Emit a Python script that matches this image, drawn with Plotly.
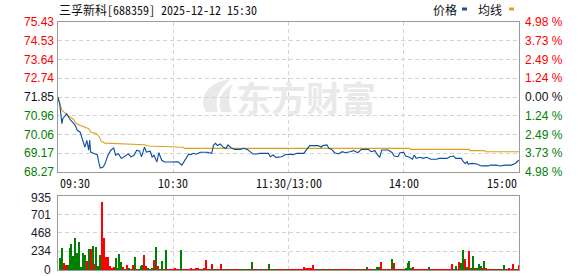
import plotly.graph_objects as go

# ---------------- data ----------------
title_text = "三孚新科[688359] 2025-12-12 15:30"
prev_close = 71.85
price_ticks = [68.27, 69.17, 70.06, 70.96, 71.85, 72.74, 73.64, 74.53, 75.43]
pct_labels = ["4.98 %", "3.73 %", "2.49 %", "1.24 %", "0.00 %", "1.24 %", "2.49 %", "3.73 %", "4.98 %"]
vol_ticks = [0, 234, 468, 701, 935]
time_ticks = [0, 60, 120, 180, 240]
time_labels = ["09:30", "10:30", "11:30/13:00", "14:00", "15:00"]

price_t = [0, 1, 2, 2.5, 4.5, 6, 9, 10, 11.5, 12, 13, 14, 15, 16, 16.5, 17, 19, 20.5, 21, 22,
           23.5, 24.5, 26, 27.5, 29, 30, 31.5, 33, 35, 36.5, 38, 39.5, 41, 42.5, 43.5, 45, 46, 48, 49, 50,
           51.5, 52.5, 54, 55.5, 58, 60, 62.5, 64.5, 66, 68, 69, 70.5, 72, 74, 77.5, 80, 81, 82, 83, 84.5,
           86, 87.5, 88.5, 90.5, 92, 95, 96.5, 98.5, 100, 101.5, 103.5, 105, 109.5, 110.5, 112, 113.5, 116.5, 118, 120, 122.5,
           124.5, 128, 129, 131, 135.5, 137, 138, 140, 141, 142.5, 144, 146, 148, 149.5, 152, 154, 156, 158, 161.5, 163,
           165, 166, 167.5, 168.5, 172, 174, 175, 177, 178, 180, 181, 183, 184.5, 185.5, 186.5, 188.5, 190, 192, 194, 197,
           198.5, 202.5, 204, 206, 207, 210, 211, 212, 213, 213.5, 215.5, 218, 220.5, 224, 225, 228.5, 230, 233, 236, 238,
           239, 240]
price_v = [71.85, 71.45, 70.58, 70.81, 71.05, 70.81, 70.50, 70.26, 70.18, 70.02, 69.70, 69.46, 69.78, 69.31, 69.78, 69.22, 69.14, 69.10, 68.83, 68.46,
           68.51, 68.67, 69.07, 69.31, 69.42, 69.07, 69.14, 68.91, 69.03, 69.14, 68.99, 69.07, 69.31, 69.26, 68.99, 69.46, 69.22, 69.26, 68.99, 69.07,
           68.75, 69.19, 68.83, 68.75, 68.75, 68.76, 68.76, 68.60, 68.81, 69.12, 69.10, 69.16, 69.12, 69.21, 69.21, 69.16, 69.56, 69.64, 69.53, 69.61,
           69.45, 69.40, 69.56, 69.40, 69.35, 69.35, 69.40, 69.35, 69.24, 69.13, 69.13, 69.16, 69.16, 69.00, 69.08, 68.97, 69.00, 69.08, 69.12, 69.10,
           69.16, 69.16, 69.29, 69.53, 69.53, 69.45, 69.53, 69.56, 69.40, 69.35, 69.19, 69.13, 69.24, 69.19, 69.24, 69.29, 69.19, 69.35, 69.35, 69.24,
           69.29, 69.13, 68.97, 69.32, 69.32, 69.19, 69.03, 69.00, 69.19, 69.21, 69.03, 68.97, 68.88, 69.08, 68.92, 68.97, 68.92, 68.97, 68.88, 68.88,
           68.92, 68.92, 69.00, 69.03, 68.92, 68.92, 68.76, 68.68, 68.76, 68.65, 68.68, 68.65, 68.56, 68.56, 68.60, 68.60, 68.56, 68.60, 68.60, 68.68,
           68.76, 68.84]

avg_t = [0, 2, 3.5, 5.5, 8, 9.5, 11.5, 14, 16, 17, 19, 20, 21.5, 22.5, 24.5, 32, 35, 45, 47, 55, 56, 60, 65, 66,
         183, 183.5, 214, 214.5, 222, 222.5, 240]
avg_v = [71.85, 71.22, 71.10, 70.94, 70.79, 70.58, 70.50, 70.42, 70.34, 70.18, 70.15, 70.10, 69.94, 69.74, 69.65, 69.62, 69.59, 69.57, 69.51, 69.49, 69.46, 69.45, 69.45, 69.40,
         69.40, 69.35, 69.35, 69.29, 69.29, 69.24, 69.24]

volume = [0,
          147, 274, 93, 63, 63, 274, 328, 177, 400, 219,
          350, 34, 219, 190, 118, 265, 265, 303, 76, 286,
          51, 190, 863, 400, 160, 160, 51, 21, 34, 147,
          21, 202, 105, 34, 8, 63, 21, 8, 63, 160,
          8, 8, 51, 63, 190, 51, 21, 8, 21, 126,
          286, 51, 8, 114, 8, 253, 12, 12, 12, 12,
          14, 12, 12, 253, 12, 12, 12, 12, 14, 12,
          12, 14, 25, 12, 12, 14, 126, 12, 12, 72,
          12, 12, 12, 12, 72, 12, 12, 12, 12, 12,
          12, 12, 12, 12, 12, 12, 12, 12, 12, 12,
          97, 12, 12, 12, 12, 12, 12, 12, 12, 72,
          12, 12, 12, 12, 12, 12, 12, 12, 12, 12,
          12, 12, 12, 12, 12, 12, 12, 38, 14, 30,
          30, 25, 59, 12, 12, 12, 12, 12, 12, 12,
          12, 12, 12, 12, 12, 12, 12, 12, 12, 12,
          12, 12, 12, 12, 12, 12, 12, 12, 12, 12,
          38, 12, 12, 12, 12, 38, 38, 101, 12, 12,
          12, 12, 12, 139, 84, 12, 12, 12, 12, 12,
          25, 84, 114, 25, 34, 12, 12, 12, 12, 12,
          12, 12, 34, 12, 12, 12, 12, 12, 12, 12,
          12, 12, 12, 12, 80, 12, 51, 12, 101, 93,
          253, 139, 34, 240, 25, 177, 25, 14, 76, 51,
          25, 114, 25, 12, 12, 12, 12, 12, 12, 12,
          12, 63, 12, 12, 25, 12, 76, 12, 12, 63]
vol_dir = ("r"
           "ggrrgggggg" "ggggrgrgrg" "ggrrrrrrrg" "gggrgrgrrg" "rgggrrgggr"
           "grggrgrrrr" "rrrgrrrrrr" "rrrrgrrrgr" "ggrrrggrrg" "rrrrggrggr"
           "grrgrrggrg" "rggrrrrgrr" "rrrrrrrrrr" "rrrrrggrrg" "rrgrrrgrrr"
           "rgrrgrrgrr" "grrgrggrrg" "rrrgrrrgrr" "ggggrrrrrr" "rrgrrrrrrr"
           "rrrrrggrrg" "grgrggrggg" "rgrrrgrrgr" "rggrrrrgrr")

# ---------------- styling ----------------
W, H = 578, 276
X0, X1 = 58, 519
PY0, PY1 = 22, 172
VY0, VY1 = 196, 270
BLUE = "#0b4ea2"
GOLD = "#dca21c"
RED = "#ff0000"
GREEN = "#008000"
GRID = "#d4d4d4"
FRAME = "#9a9a9a"
WM = "#e9e9ec"
MONO = "Noto Sans Mono CJK SC, Liberation Mono, Noto Sans CJK SC"
SANS = "Liberation Sans, Arial"


def px(x):
    return x / W


def py(y):
    return 1 - y / H


minutes = list(range(len(volume)))
bar_colors = [RED if c == "r" else GREEN for c in vol_dir]

fig = go.Figure()
fig.add_trace(go.Scatter(x=avg_t, y=avg_v, mode="lines", line=dict(color=GOLD, width=1.1),
                         xaxis="x", yaxis="y", hoverinfo="skip"))
fig.add_trace(go.Scatter(x=price_t, y=price_v, mode="lines", line=dict(color=BLUE, width=1.1),
                         xaxis="x", yaxis="y", hoverinfo="skip"))
fig.add_trace(go.Bar(x=minutes, y=volume, marker=dict(color=bar_colors, line=dict(width=0)),
                     width=0.55, xaxis="x2", yaxis="y2", hoverinfo="skip"))

axis_common = dict(showline=True, linecolor=FRAME, linewidth=1, mirror=True,
                   showgrid=True, gridcolor=GRID, griddash="4px,3px", gridwidth=1,
                   zeroline=False, showticklabels=False, ticks="", fixedrange=True)

fig.update_layout(
    width=W, height=H,
    margin=dict(l=0, r=0, t=0, b=0),
    paper_bgcolor="white", plot_bgcolor="white",
    showlegend=False, bargap=0,
    xaxis=dict(domain=[px(X0), px(X1)], range=[0, 240], tickvals=time_ticks[1:-1], anchor="y", **axis_common),
    yaxis=dict(domain=[py(PY1), py(PY0)], range=[price_ticks[0], price_ticks[-1]],
               tickvals=price_ticks[1:-1], anchor="x", **axis_common),
    xaxis2=dict(domain=[px(X0), px(X1)], range=[0, 240], tickvals=time_ticks[1:-1], anchor="y2", **axis_common),
    yaxis2=dict(domain=[py(VY1), py(VY0)], range=[0, vol_ticks[-1]],
                tickvals=vol_ticks[1:-1], anchor="x2", **axis_common),
)

ann = []
# watermark
ann.append(dict(text="<b>东方财富</b>", xref="paper", yref="paper", x=px(306), y=py(96),
                showarrow=False, font=dict(family="Noto Sans CJK SC", size=35, color=WM),
                xanchor="center", yanchor="middle"))
# title
ann.append(dict(text=title_text, xref="paper", yref="paper", x=px(57), y=py(9), showarrow=False,
                xanchor="left", yanchor="middle", font=dict(family=MONO, size=12, color="#111111")))
# legend
ann.append(dict(text="价格", xref="paper", yref="paper", x=px(431), y=py(9), showarrow=False,
                xanchor="left", yanchor="middle", font=dict(family=MONO, size=12, color="#111111")))
ann.append(dict(text="均线", xref="paper", yref="paper", x=px(476), y=py(9), showarrow=False,
                xanchor="left", yanchor="middle", font=dict(family=MONO, size=12, color="#111111")))

# price labels (left) and percentage labels (right)
for i, v in enumerate(price_ticks):
    if v > prev_close + 1e-9:
        col = RED
    elif v < prev_close - 1e-9:
        col = GREEN
    else:
        col = "#111111"
    ann.append(dict(text=f"{v:.2f}", xref="paper", yref="y", x=px(56), y=v, showarrow=False,
                    xanchor="right", yanchor="middle", font=dict(family=SANS, size=12, color=col)))
    ann.append(dict(text=pct_labels[len(price_ticks) - 1 - i], xref="paper", yref="y", x=px(523), y=v,
                    showarrow=False, xanchor="left", yanchor="middle",
                    font=dict(family=SANS, size=12, color=col)))

# volume labels
for v in vol_ticks:
    yy = v if v < vol_ticks[-1] else v - 25
    ann.append(dict(text=str(v), xref="paper", yref="y2", x=px(53), y=yy, showarrow=False,
                    xanchor="right", yanchor="middle", font=dict(family=SANS, size=12, color="#1a1a2a")))

# time labels
for t, lab in zip(time_ticks, time_labels):
    anchor = "left" if t == time_ticks[0] else ("right" if t == time_ticks[-1] else "center")
    ann.append(dict(text=lab, xref="x", yref="paper", x=t, y=py(182), showarrow=False,
                    xanchor=anchor, yanchor="middle", font=dict(family=MONO, size=12, color="#111111")))

fig.update_layout(annotations=ann)


def ppath(points):
    parts = []
    for cmd, pts in points:
        coords = " ".join(f"{px(a):.4f},{py(b):.4f}" for a, b in pts)
        parts.append(f"{cmd} {coords}")
    return " ".join(parts) + " Z"


# watermark logo (light swoosh)
fig.add_shape(type="path", xref="paper", yref="paper", layer="below",
              path=ppath([("M", [(206, 112)]), ("C", [(198, 98), (207, 82), (231, 79)]),
                          ("C", [(219, 88), (214, 100), (218, 112)])]),
              fillcolor=WM, line=dict(width=0))
fig.add_shape(type="path", xref="paper", yref="paper", layer="below",
              path=ppath([("M", [(221, 112)]), ("C", [(217, 100), (222, 90), (233, 84)]),
                          ("C", [(228, 94), (228, 104), (232, 112)])]),
              fillcolor=WM, line=dict(width=0))

# legend color swatches
fig.add_shape(type="rect", xref="paper", yref="paper", x0=px(462), x1=px(467), y0=py(10.5), y1=py(7.5),
              fillcolor="#1f4e9c", line=dict(width=0))
fig.add_shape(type="rect", xref="paper", yref="paper", x0=px(509), x1=px(514), y0=py(10.5), y1=py(7.5),
              fillcolor="#e0a418", line=dict(width=0))

fig.write_html("out.html")
